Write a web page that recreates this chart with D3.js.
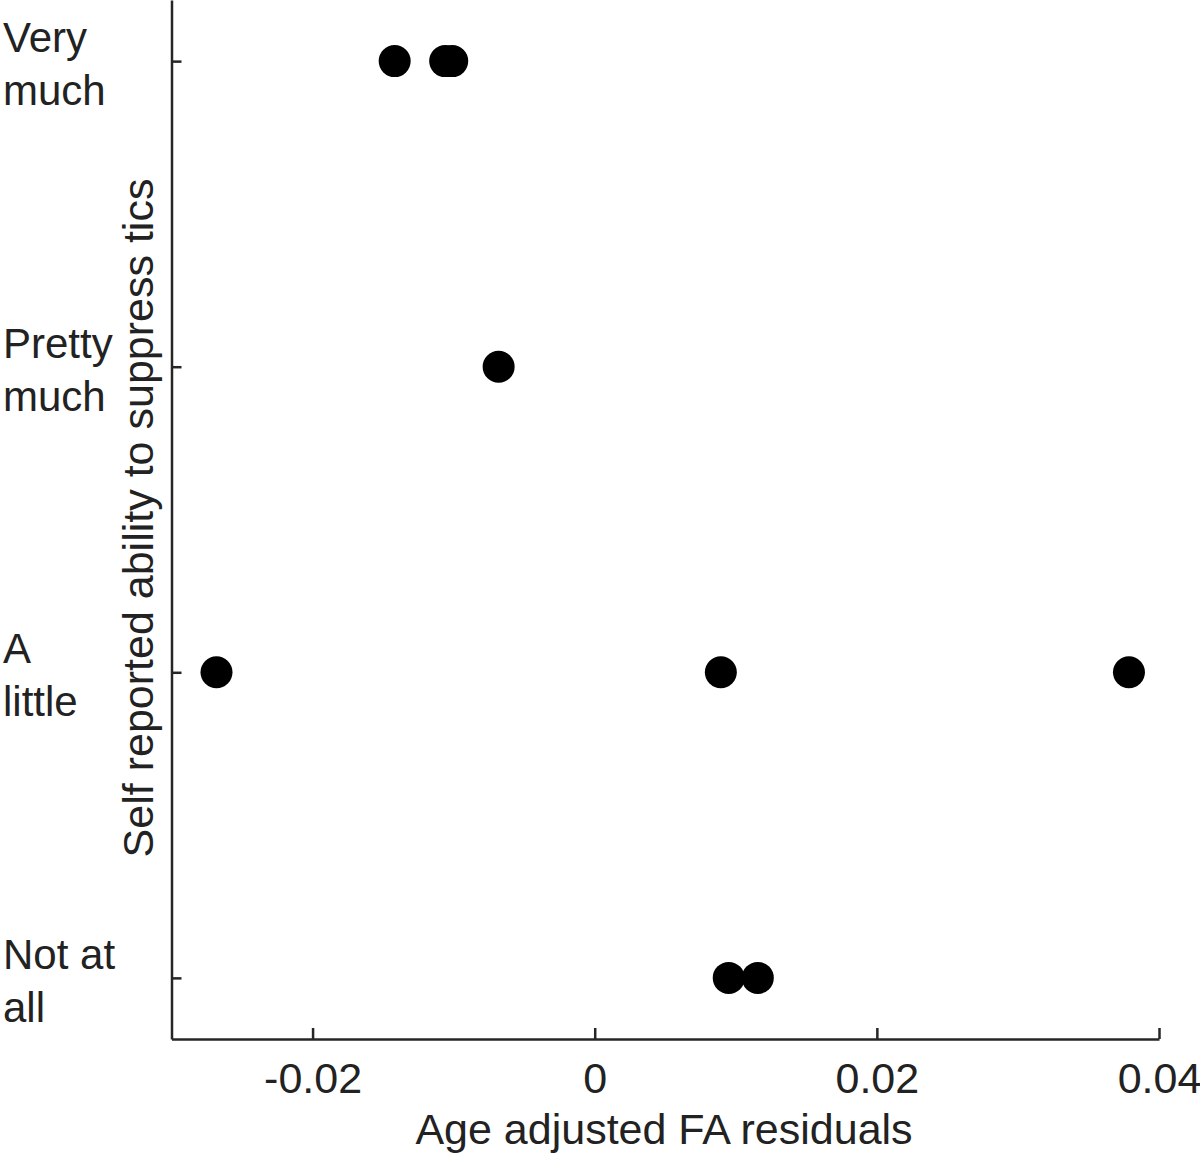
<!DOCTYPE html>
<html><head><meta charset="utf-8">
<script src="https://cdn.jsdelivr.net/npm/d3@7"></script>
<style>body{margin:0;background:#fff}text{font-family:"Liberation Sans",Arial,sans-serif;fill:#222}</style>
</head><body><svg id="c" width="1200" height="1155"></svg>
<script>
const categories = [["Not at","all"],["A","little"],["Pretty","much"],["Very","much"]];
const levels = [1,2,3,4];
const residuals = [-0.01418,-0.0106,-0.0101,-0.00681,-0.02681,0.00894,0.03787,0.0095,0.01156];
const responses = [4,4,4,3,2,2,2,1,1];
const xTicks = [-0.02,0,0.02,0.04];
const xTickLabels = ["-0.02","0","0.02","0.04"];

const svg = d3.select("#c");
const x = d3.scaleLinear().domain([-0.03,0.04]).range([171.5,1159]);
const y = d3.scaleLinear().domain([0.8,4.2]).range([1039,0]);

const ax = svg.append("g").attr("transform","translate(0,1039)")
  .call(d3.axisBottom(x).tickValues(xTicks).tickFormat((d,i)=>xTickLabels[i]).tickSizeInner(-11).tickSizeOuter(0).tickPadding(23));
const ay = svg.append("g").attr("transform","translate(171.5,0)")
  .call(d3.axisLeft(y).tickValues(levels).tickFormat("").tickSizeInner(-10).tickSizeOuter(0));
[ax,ay].forEach(g=>{
  g.select(".domain").attr("stroke","#262626").attr("stroke-width",2.5);
  g.selectAll(".tick line").attr("stroke","#262626").attr("stroke-width",2.5);
});
ax.selectAll(".tick text").attr("font-size",43).attr("fill","#222").attr("dy","0.71em");

// y category labels
const yl = svg.append("g");
levels.forEach((v,i)=>{
  const t = yl.append("text").attr("x",3).attr("y",y(v)-9).attr("font-size",42);
  t.append("tspan").attr("x",3).text(categories[i][0]);
  t.append("tspan").attr("x",3).attr("dy",53).text(categories[i][1]);
});

svg.append("text").attr("x",664).attr("y",1144).attr("text-anchor","middle").attr("font-size",43).text("Age adjusted FA residuals");
svg.append("text").attr("transform","translate(153,518) rotate(-90)").attr("text-anchor","middle").attr("font-size",43).text("Self reported ability to suppress tics");

svg.append("g").selectAll("circle").data(residuals).join("circle")
  .attr("cx",d=>x(d)).attr("cy",(d,i)=>y(responses[i])).attr("r",16).attr("fill","#000");
</script></body></html>
